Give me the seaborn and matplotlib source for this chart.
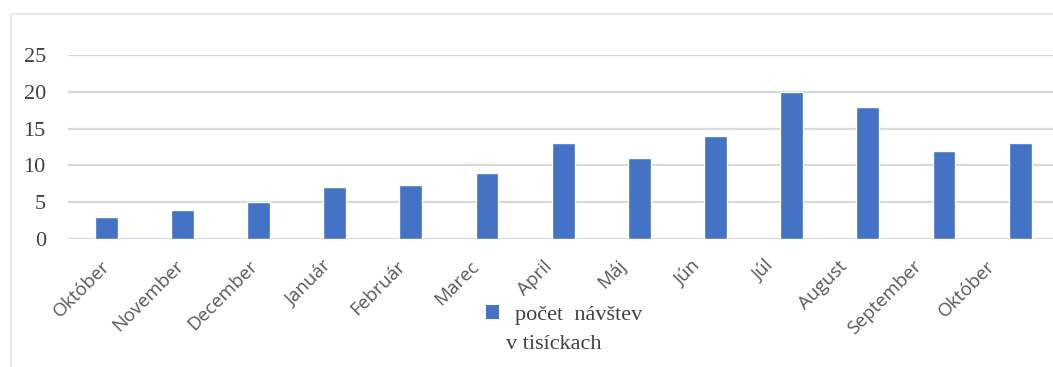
import matplotlib
matplotlib.use("Agg")
import matplotlib.pyplot as plt
from matplotlib.patches import Rectangle, Patch
import numpy as np
import pandas as pd
import seaborn as sns

# Monthly visits (thousands)
mesiace = ["Október", "November", "December", "Január", "Február", "Marec",
           "April", "Máj", "Jún", "Júl", "August", "September", "Október"]
navstevy = [3, 4, 5, 7, 7.4, 8.9, 13, 11, 14, 20, 18, 12, 13]
y_ticks = [0, 5, 10, 15, 20, 25]
legend_line1 = "počet  návštev"
legend_line2 = "v tisíckach"

bar_color = "#4472C4"

sns.set_theme(style="white")
plt.rcParams["font.family"] = ["DejaVu Sans"]

W, H = 1053, 367
fig = plt.figure(figsize=(W / 100, H / 100), dpi=100)
fig.patch.set_facecolor("white")

# axes placement in pixels: left 68, right 1053, top 55, bottom 239
ax = fig.add_axes([68 / W, 1 - 239 / H, (1053 - 68) / W, (239 - 55) / H])

df = pd.DataFrame({"idx": np.arange(len(mesiace)), "navstevy": navstevy})
sns.barplot(data=df, x="idx", y="navstevy", color=bar_color, saturation=1,
            width=0.3, ax=ax, zorder=3)

ax.set_xlim(-0.5, 12.43)
ax.set_ylim(0, 25)
ax.set_yticks(y_ticks)
ax.set_yticklabels([str(v) for v in y_ticks], family="Liberation Serif",
                   fontsize=16, color="#404040")

# month labels sit on a slightly tighter pitch than the bars
n = len(mesiace)
label_pos = (-5 + 73.75 * np.arange(n)) / 76.2
ax.set_xticks(label_pos)
ax.set_xticklabels(mesiace, rotation=45, ha="right", rotation_mode="anchor",
                   family="Open Sans", fontsize=13.5, color="#595959")
ax.tick_params(axis="y", length=0, pad=16)
ax.tick_params(axis="x", length=0, pad=13)
ax.set_xlabel("")
ax.set_ylabel("")

ax.grid(axis="y", color="#d9d9d9", linewidth=1.6, zorder=0)
ax.set_axisbelow(True)
for s in ax.spines.values():
    s.set_visible(False)

# legend: square marker with the first line, second line below
serif = {"family": "Liberation Serif", "size": 16}
leg = fig.legend(handles=[Patch(facecolor=bar_color, edgecolor="none")],
                 labels=[legend_line1], loc="upper left",
                 bbox_to_anchor=(486 / W, 1 - 305 / H), frameon=False,
                 borderpad=0, borderaxespad=0,
                 handlelength=0.6, handleheight=0.6, handletextpad=0.7,
                 prop=serif)
for t in leg.get_texts():
    t.set_color("#404040")
fig.text(506 / W, 1 - 349 / H, legend_line2, ha="left", va="baseline",
         color="#404040", **serif)

# outer chart frame
fig.add_artist(Rectangle((11 / W, -0.1), 1.2, 1 - 14 / H + 0.1,
                         transform=fig.transFigure, fill=False,
                         edgecolor="#e6e6e6", linewidth=1.2))

fig.savefig("out.png", dpi=100)
